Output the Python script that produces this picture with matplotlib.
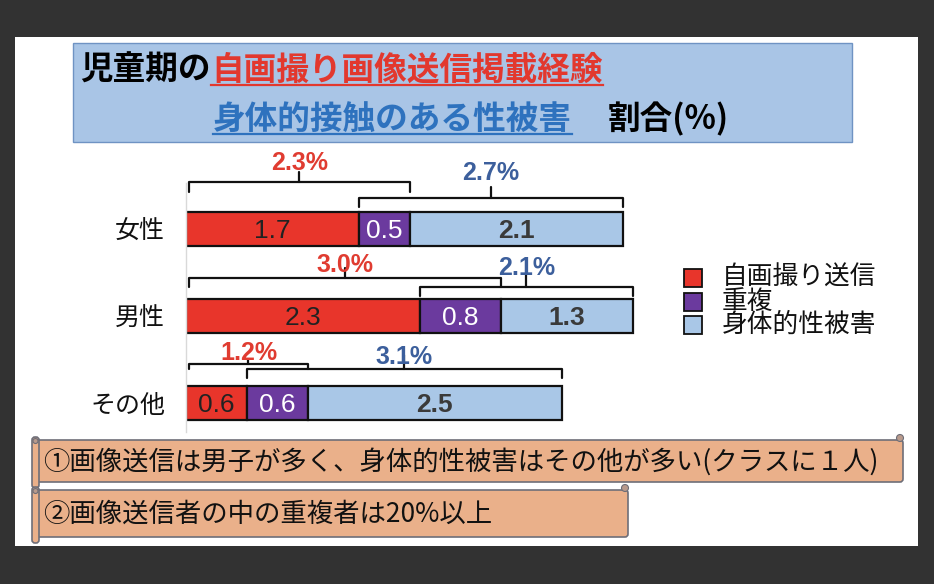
import matplotlib.pyplot as plt
from matplotlib.patches import Rectangle, FancyBboxPatch, Circle

plt.rcParams['font.family'] = ['Noto Sans CJK JP', 'DejaVu Sans']

# Data
groups = ['女性', '男性', 'その他']
series = ['自画撮り送信', '重複', '身体的性被害']
selfie = [1.7, 2.3, 0.6]
overlap = [0.5, 0.8, 0.6]
contact = [2.1, 1.3, 2.5]
selfie_total = ['2.3%', '3.0%', '1.2%']
contact_total = ['2.7%', '2.1%', '3.1%']

title_black_1 = '児童期の'
title_red = '自画撮り画像送信掲載経験'
title_blue = '身体的接触のある性被害'
title_black_2 = '割合(%)'
notes = ['①画像送信は男子が多く、身体的性被害はその他が多い(クラスに１人)',
         '②画像送信者の中の重複者は20%以上']

# Styles
colors = ['#e8352b', '#6b3a9e', '#a9c7e7']
value_colors = ['#222222', 'white', '#3a3a3a']
value_weights = ['normal', 'normal', 'bold']
red_txt = '#e03c31'
blue_txt = '#3c5f9c'
# bracket offsets above bar centre: (top, ends, tick, label)
red_br = [(0.54, 0.425, 0.655, 0.76), (0.437, 0.333, 0.55, 0.59), (0.45, 0.39, 0.49, 0.575)]
blue_br = [(0.356, 0.253, 0.48, 0.64), (0.333, 0.23, 0.47, 0.55), (0.39, 0.29, 0.55, 0.53)]

W, H = 934, 584
fig = plt.figure(figsize=(W / 100, H / 100), dpi=100, facecolor='#323232')

# full-figure pixel axes for the slide decorations
ax0 = fig.add_axes([0, 0, 1, 1])
ax0.set_xlim(0, W)
ax0.set_ylim(H, 0)
ax0.axis('off')

ax0.add_patch(Rectangle((15, 37), 903, 509, facecolor='white', edgecolor='none'))

# title box
ax0.add_patch(Rectangle((73, 43), 779, 99, facecolor='#a9c5e6', edgecolor='#6f93c3', lw=1))
t1 = ax0.text(80, 70, title_black_1, fontsize=23.5, fontweight='bold', color='black', va='center')
t2 = ax0.text(211, 70, title_red, fontsize=23.5, fontweight='bold', color='#e2382e', va='center')
t3 = ax0.text(213, 119, title_blue, fontsize=23.5, fontweight='bold', color='#2e72be', va='center')
t4 = ax0.text(608, 119, title_black_2, fontsize=23.5, fontweight='bold', color='black', va='center')

fig.canvas.draw()
r = fig.canvas.get_renderer()
for t, y, c in [(t2, 85, '#e2382e'), (t3, 134, '#2e72be')]:
    bb = t.get_window_extent(r)
    x0 = ax0.transData.inverted().transform((bb.x0, 0))[0]
    x1 = ax0.transData.inverted().transform((bb.x1, 0))[0]
    ax0.plot([x0, x1], [y, y], color=c, lw=1.6)

# legend
for i, name in enumerate(series):
    yc = 278 + i * 23.5
    ax0.add_patch(Rectangle((684, yc - 9), 18, 18, facecolor=colors[i], edgecolor='#111111', lw=1.3))
    ax0.text(722, yc, name, fontsize=18.5, va='center', color='#111111')

# scroll banners with notes
banners = [(36, 440, 867, 42), (36, 490, 592, 47)]
for (bx, by, bw, bh), note in zip(banners, notes):
    ax0.add_patch(FancyBboxPatch((bx, by), bw, bh, boxstyle='round,pad=0,rounding_size=3',
                                 facecolor='#eab08a', edgecolor='#6e6e78', lw=1.2))
    ax0.add_patch(FancyBboxPatch((bx - 4, by - 3), 7, bh + 9, boxstyle='round,pad=0,rounding_size=3',
                                 facecolor='#eab08a', edgecolor='#6e6e78', lw=1.2))
    ax0.add_patch(Circle((bx - 0.5, by + 1), 2.5, facecolor='#b99a8c', edgecolor='#6e6e78', lw=0.8))
    ax0.add_patch(Circle((bx + bw - 3, by - 2), 3.5, facecolor='#b99a8c', edgecolor='#6e6e78', lw=0.8))
    ax0.text(bx + 7, by + bh / 2 + 1, note, fontsize=19, va='center', color='#111111')

# bar chart axes: x 186..650 px, y 183..432 px
ax = fig.add_axes([186 / W, 1 - 432 / H, 464 / W, 249 / H])
ax.patch.set_alpha(0)
ax.set_xlim(0, 464 / 101.6)
ax.set_ylim(2.333, -0.529)
ypos = list(range(len(groups)))

lefts = [0] * len(groups)
for vals, c, tc, fw in zip([selfie, overlap, contact], colors, value_colors, value_weights):
    ax.barh(ypos, vals, left=lefts, height=0.39, color=c, edgecolor='#111111', lw=1.6)
    for y, l, v in zip(ypos, lefts, vals):
        ax.text(l + v / 2, y + 0.02, f'{v:.1f}', ha='center', va='center', fontsize=19,
                family='Liberation Sans', color=tc, fontweight=fw)
    lefts = [l + v for l, v in zip(lefts, vals)]


def bracket(x0, x1, yc, top, end, tick):
    kw = dict(color='#111111', lw=1.6, clip_on=False, solid_joinstyle='round', solid_capstyle='round')
    ax.plot([x0, x0, x1, x1], [yc - end, yc - top, yc - top, yc - end], **kw)
    xm = (x0 + x1) / 2
    ax.plot([xm, xm], [yc - top, yc - tick], **kw)
    return xm


for y in ypos:
    s, o, c = selfie[y], overlap[y], contact[y]
    tp, en, tk, lb = red_br[y]
    xm = bracket(0.03, s + o, y, tp, en, tk)
    ax.text(xm, y - lb, selfie_total[y], ha='center', va='center', fontsize=18, fontweight='bold',
            family='Liberation Sans', color=red_txt)
    tp, en, tk, lb = blue_br[y]
    xm = bracket(s, s + o + c, y, tp, en, tk)
    ax.text(xm, y - lb, contact_total[y], ha='center', va='center', fontsize=18, fontweight='bold',
            family='Liberation Sans', color=blue_txt)

ax.set_yticks(ypos)
ax.set_yticklabels(groups, fontsize=18, color='#111111')
ax.tick_params(axis='y', length=0, pad=15)
ax.set_xticks([])
for side in ['top', 'right', 'bottom']:
    ax.spines[side].set_visible(False)
ax.spines['left'].set_color('#d9d9d9')
ax.spines['left'].set_linewidth(1)

fig.savefig('out.png', dpi=100, facecolor=fig.get_facecolor())
